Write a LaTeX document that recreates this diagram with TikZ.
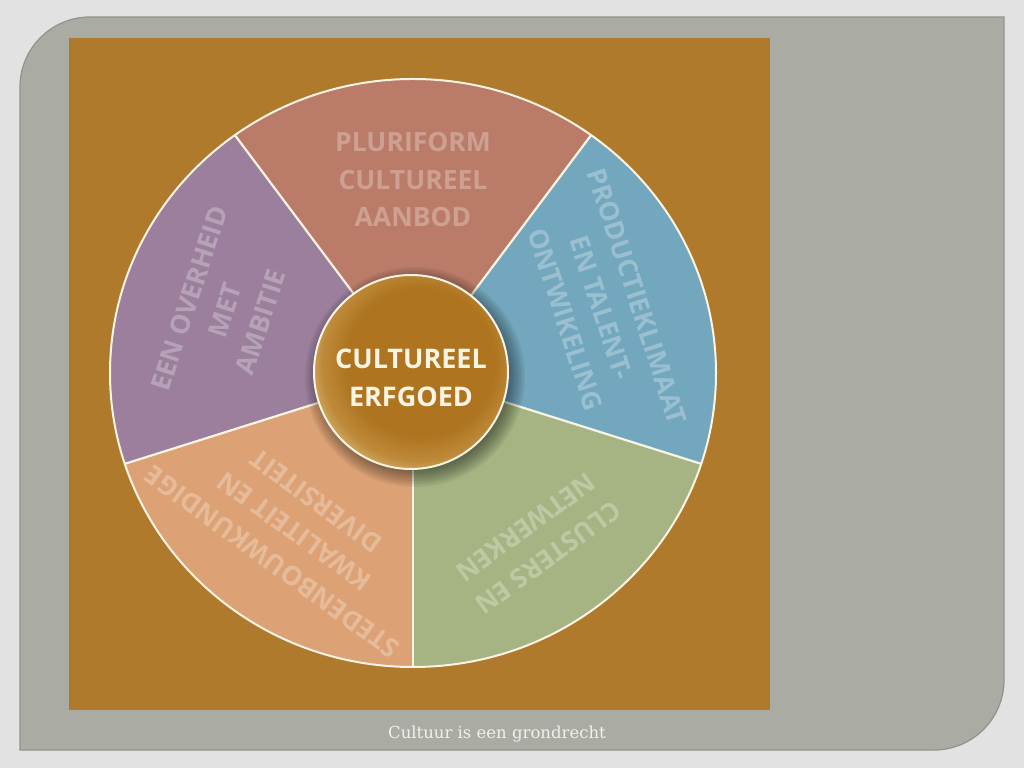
\documentclass[tikz,border=0pt]{standalone}
\usepackage{fontspec}
\newfontfamily\segfont{Open Sans}
\newfontfamily\capfont{DejaVu Serif}
\definecolor{bgcol}{HTML}{E2E2E2}
\definecolor{panelcol}{HTML}{AAABA3}
\definecolor{paneledge}{HTML}{92938C}
\definecolor{ochre}{HTML}{AF7A2B}
\definecolor{segtop}{HTML}{BA7C68}
\definecolor{segright}{HTML}{73A7BE}
\definecolor{seggreen}{HTML}{A5B482}
\definecolor{segorange}{HTML}{DCA174}
\definecolor{segpurple}{HTML}{9B7F9C}
\definecolor{cream}{HTML}{FAF4E4}
\definecolor{cbrown}{HTML}{AE741F}
\definecolor{cbrownb}{HTML}{BE8A3A}
\definecolor{clight}{HTML}{E4C889}
\pgfdeclareradialshading{cbevel}{\pgfpoint{4bp}{4bp}}{color(0bp)=(cbrown); color(19bp)=(cbrown); color(25bp)=(cbrownb); color(31bp)=(clight); color(50bp)=(clight)}
\tikzset{
  segtext/.style={font=\segfont\bfseries\fontsize{26.5}{37.5}\selectfont, align=center, text=white, text opacity=0.28, inner sep=0pt},
  sepline/.style={draw=cream, line width=2.2pt},
  centertext/.style={font=\segfont\bfseries\fontsize{27}{38}\selectfont, align=center, text=cream, inner sep=0pt},
}
\begin{document}
\begin{tikzpicture}[x=1pt,y=1pt]
\useasboundingbox (0,0) rectangle (1024,768);
\fill[bgcol] (0,0) rectangle (1024,768);
% gray panel
\fill[panelcol, draw=paneledge, line width=1.2pt] (20,18) -- (20,681) .. controls (20,719.6) and (51.4,751) .. (90,751) -- (1004,751) -- (1004,88) .. controls (1004,49.4) and (972.6,18) .. (934,18) -- cycle;
% ochre square
\fill[ochre] (69,58) rectangle (770,730);
% wheel
\begin{scope}[shift={(413,395)}, xscale=1.0306]
  \fill[segtop] (0,0) -- (126:294) arc[start angle=126, end angle=54, radius=294] -- cycle;
  \fill[segright] (0,0) -- (54:294) arc[start angle=54, end angle=-18, radius=294] -- cycle;
  \fill[seggreen] (0,0) -- (-18:294) arc[start angle=-18, end angle=-90, radius=294] -- cycle;
  \fill[segorange] (0,0) -- (-90:294) arc[start angle=-90, end angle=-162, radius=294] -- cycle;
  \fill[segpurple] (0,0) -- (-162:294) arc[start angle=-162, end angle=-234, radius=294] -- cycle;
  \foreach \a in {126,54,-18,-90,-162} { \draw[sepline] (0,0) -- (\a:294); }
  \draw[draw=cream, line width=2pt] (0,0) circle[radius=294];
  \node[segtext] (ttop) at (90:193) {PLURIFORM\\CULTUREEL\\AANBOD};
  \node[segtext, rotate=-72] (tright) at (19.6:194) {PRODUCTIEKLIMAAT\\EN TALENT-\\ONTWIKELING};
  \node[segtext, rotate=-144] (tgreen) at (-54.6:208) {CLUSTERS EN\\NETWERKEN};
  \node[segtext, rotate=144] (torange) at (234:196) {STEDENBOUWKUNDIGE\\KWALITEIT EN\\DIVERSITEIT};
  \node[segtext, rotate=72] (tpurple) at (161:193) {EEN OVERHEID\\MET\\AMBITIE};
\end{scope}
% centre disc shadow
\foreach \r in {92,94,...,110} { \fill[black, opacity=0.055] (415,391) circle[radius=\r]; }
\shade[shading=cbevel] (411,396) circle[radius=97];
\draw[cream, line width=2pt] (411,396) circle[radius=97];
\node[centertext] (centre) at (411,390) {CULTUREEL\\ERFGOED};
% caption
\node[font=\capfont\fontsize{16.5}{19}\selectfont, text=white!94!black, inner sep=0pt] (caption) at (497,34) {Cultuur is een grondrecht};
\end{tikzpicture}
\end{document}
